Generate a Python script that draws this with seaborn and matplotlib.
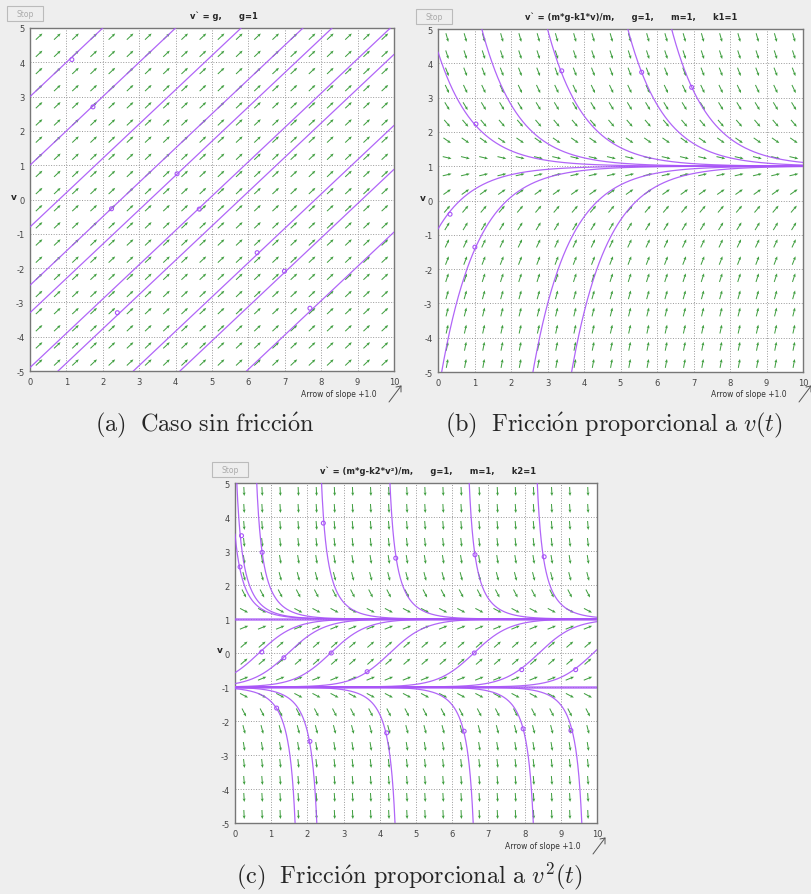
import numpy as np
import pandas as pd
import matplotlib
matplotlib.use('Agg')
import matplotlib.pyplot as plt
import seaborn as sns
from matplotlib.patches import Rectangle

# grid of the direction field
field_t = np.arange(0.25, 10, 0.5)
field_v = np.arange(-4.75, 5, 0.5)

# each solution curve is given by one point (t, v) it passes through
a_pass_t = [0, 0, 0, 0, 0, 0, 0.77, 2.84, 4.12, 5.95]
a_pass_v = [3, 1, -0.8, -2.5, -3.3, -4.9, -5, -5, -5, -5]
a_dot_t = [1.15, 1.73, 2.24, 4.65, 6.24, 6.99, 7.69, 2.4, 4.04]
a_dot_v = [4.08, 2.7, -0.27, -0.28, -1.55, -2.09, -3.17, -3.3, 0.75]

b_pass_t = [0, 1.2, 3.0, 5.2, 6.4, 0, 0.1, 2.6, 3.66]
b_pass_v = [4.33, 5, 5, 5, 5, -0.83, -5, -5, -5]
b_dot_t = [1.04, 0.33, 1.01, 3.39, 5.58, 6.95]
b_dot_v = [2.23, -0.4, -1.36, 3.78, 3.74, 3.3]

c_pass_t = [0.05, 0.6, 2.39, 4.28, 6.47, 8.35, 0,
            0, 0, 2.64, 4.28, 6.6, 8.4, 9.9,
            1.66, 2.26, 4.42, 6.58, 8.24, 9.58]
c_pass_v = [5, 5, 5, 5, 5, 5, 3.5,
            -0.58, -0.9, 0, 0, 0, 0, 0,
            -5, -5, -5, -5, -5, -5]
c_dot_t = [0.18, 0.14, 0.75, 2.44, 4.44, 6.63, 8.54, 0.74, 1.35, 2.66, 6.61,
           1.15, 2.07, 4.19, 6.33, 7.96, 9.28, 7.92, 9.41, 3.65]
c_dot_v = [3.45, 2.53, 2.96, 3.82, 2.79, 2.89, 2.83, 0.03, -0.14, 0, 0,
           -1.62, -2.6, -2.35, -2.3, -2.23, -2.28, -0.49, -0.49, -0.55]

W, H = 811, 895
PURPLE = '#a855f7'
GREEN = '#3f9e3f'

sns.set_style('white')
plt.rcParams['font.family'] = ['DejaVu Sans']
plt.rcParams['mathtext.fontset'] = 'cm'
plt.rcParams['axes.unicode_minus'] = False

fig = plt.figure(figsize=(W / 100, H / 100), dpi=100, facecolor='#eeeeee')


def fx(x):
    return x / W


def fy(y):
    return 1 - y / H


def curve_a(t, tp, vp):
    return t + (vp - tp)


def curve_b(t, tp, vp):
    return 1 + (vp - 1) * np.exp(-(t - tp))


def curve_c(t, tp, vp):
    if abs(vp) < 1:
        t0 = tp - np.arctanh(vp)
        return np.tanh(t - t0)
    t0 = tp - np.arctanh(1 / vp)
    with np.errstate(divide='ignore', invalid='ignore'):
        v = 1 / np.tanh(t - t0)
    if vp > 1:
        v[t <= t0] = np.nan
    else:
        v[t >= t0] = np.nan
    return v


def make_curves(func, pass_t, pass_v):
    t = np.linspace(0, 10, 2001)
    rows = []
    for i, (tp, vp) in enumerate(zip(pass_t, pass_v)):
        v = func(t, tp, vp)
        df = pd.DataFrame({'t': t, 'v': v, 'curve': i})
        df = df[df['v'].abs() < 7]
        rows.append(df)
    return pd.concat(rows, ignore_index=True)


def draw_panel(left, top, right, bottom, slope, curves, dot_t, dot_v, title,
               title_x, stop_x, stop_y, label_x, label_y, vlab_x, eq_lines):
    ax = fig.add_axes([fx(left), fy(bottom), fx(right - left), (bottom - top) / H])
    ax.set_facecolor('white')

    T, V = np.meshgrid(field_t, field_v)
    S = slope(T, V)
    U = 1 / np.sqrt(1 + S ** 2)
    Wv = S * U
    ax.quiver(T, V, U, Wv, angles='xy', pivot='middle', color=GREEN,
              units='dots', width=1.0, headwidth=3, headlength=3.5,
              headaxislength=3, scale_units='dots', scale=1 / 9, zorder=2)

    for y in eq_lines:
        ax.axhline(y, color=PURPLE, lw=1.8, alpha=0.8, zorder=3)

    sns.lineplot(data=curves, x='t', y='v', units='curve', estimator=None,
                 color=PURPLE, lw=0.9, alpha=0.9, sort=False, ax=ax, zorder=3)
    sns.scatterplot(x=dot_t, y=dot_v, ax=ax, s=8, facecolor='none',
                    edgecolor=PURPLE, linewidth=0.8, zorder=4)

    ax.set_xlim(0, 10)
    ax.set_ylim(-5, 5)
    ax.set_xticks(range(0, 11))
    ax.set_yticks(range(-5, 6))
    ax.tick_params(labelsize=6, colors='#444444', length=2, width=0.6, pad=2)
    ax.grid(True, ls=':', color='#999999', lw=0.7)
    ax.set_axisbelow(True)
    for s in ax.spines.values():
        s.set_color('#777777')
        s.set_linewidth(1)
    ax.set_xlabel('')
    ax.set_ylabel('')

    fig.text(fx(title_x), fy(top - 13), title, ha='center', va='center',
             fontsize=6, fontweight='bold')
    fig.add_artist(Rectangle((fx(stop_x), fy(stop_y + 15)), 36 / W, 15 / H,
                             transform=fig.transFigure, facecolor='#eeeeee',
                             edgecolor='#bbbbbb', lw=0.8))
    fig.text(fx(stop_x + 18), fy(stop_y + 7.5), 'Stop', ha='center', va='center',
             fontsize=5.5, color='#aaaaaa')
    fig.text(fx(label_x), fy(label_y), 'Arrow of slope +1.0', ha='right',
             va='center', fontsize=5.5, color='#333333')
    fig.add_artist(plt.Line2D([fx(label_x + 12), fx(label_x + 24)],
                              [fy(label_y + 8), fy(label_y - 8)],
                              transform=fig.transFigure, color='#555555', lw=0.7))
    fig.add_artist(plt.Line2D([fx(label_x + 19), fx(label_x + 24), fx(label_x + 24)],
                              [fy(label_y - 7), fy(label_y - 8), fy(label_y - 2)],
                              transform=fig.transFigure, color='#555555', lw=0.7))
    fig.text(fx(vlab_x), fy((top + bottom) / 2 - 3), 'v', ha='center',
             va='center', fontsize=6.5, fontweight='bold')
    return ax


curves_a = make_curves(curve_a, a_pass_t, a_pass_v)
curves_b = make_curves(curve_b, b_pass_t, b_pass_v)
curves_c = make_curves(curve_c, c_pass_t, c_pass_v)

draw_panel(30, 29, 394, 372, lambda t, v: np.ones_like(v), curves_a,
           a_dot_t, a_dot_v, "v` = g,      g=1", 224, 7, 7, 377, 395, 14, [])
draw_panel(438, 30, 803, 373, lambda t, v: 1 - v, curves_b,
           b_dot_t, b_dot_v,
           "v` = (m*g-k1*v)/m,      g=1,      m=1,      k1=1",
           631, 416, 10, 787, 395, 423, [])
draw_panel(235, 484, 597, 824, lambda t, v: 1 - v ** 2, curves_c,
           c_dot_t, c_dot_v,
           "v` = (m*g-k2*v²)/m,      g=1,      m=1,      k2=1",
           428, 212, 463, 581, 847, 220, [1, -1])

cap = dict(ha='center', va='center', fontsize=17.5)
fig.text(fx(205), fy(425), r'$\mathrm{(a)\ \ Caso\ sin\ fricci\acute{o}n}$', **cap)
fig.text(fx(614), fy(425), r'$\mathrm{(b)\ \ Fricci\acute{o}n\ proporcional\ a\ }v(t)$', **cap)
fig.text(fx(409), fy(876), r'$\mathrm{(c)\ \ Fricci\acute{o}n\ proporcional\ a\ }v^2(t)$', **cap)

fig.savefig('out.png', dpi=100, facecolor=fig.get_facecolor())
